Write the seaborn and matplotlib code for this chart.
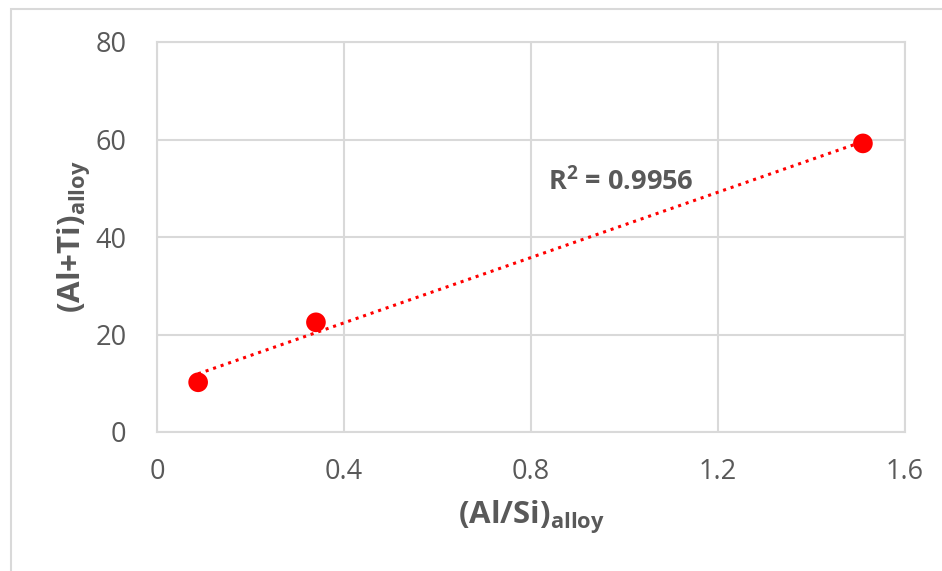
import matplotlib
matplotlib.use("Agg")
import matplotlib.pyplot as plt
import seaborn as sns
import pandas as pd
from matplotlib.patches import Rectangle

al_si = [0.088, 0.34, 1.51]
al_ti = [10.2, 22.5, 59.2]
x_ticks = [0, 0.4, 0.8, 1.2, 1.6]
x_tick_labels = ["0", "0.4", "0.8", "1.2", "1.6"]
y_ticks = [0, 20, 40, 60, 80]
r2_text = "R$^{\\mathbf{2}}$ = 0.9956"

sns.set_theme(style="white")
plt.rcParams['font.family'] = ['Open Sans', 'DejaVu Sans']
plt.rcParams['mathtext.fontset'] = 'custom'
plt.rcParams['mathtext.rm'] = 'Open Sans'
plt.rcParams['mathtext.bf'] = 'Open Sans:bold'

df = pd.DataFrame({"x": al_si, "y": al_ti})
gray = "#595959"
gridc = "#d9d9d9"

fig = plt.figure(figsize=(9.42, 5.71), dpi=100)
fig.patches.append(Rectangle((11/942, -0.1), 2.0, 1 - 9/571 + 0.1, transform=fig.transFigure,
                             fill=False, edgecolor="#d9d9d9", linewidth=1.5))
ax = fig.add_axes([157/942, 1 - 432/571, (905 - 157)/942, (432 - 42)/571])

sns.regplot(data=df, x="x", y="y", ax=ax, scatter=False, ci=None, truncate=True,
            line_kws=dict(color="#ff0000", linestyle=(0, (1, 1.6)), linewidth=2.2))
sns.scatterplot(data=df, x="x", y="y", ax=ax, color="#ff0000", s=200, edgecolor="none", zorder=5)

ax.set_xlim(0, 1.6)
ax.set_ylim(0, 80)
ax.set_xticks(x_ticks)
ax.set_xticklabels(x_tick_labels)
ax.set_yticks(y_ticks)
ax.grid(True, color=gridc, linewidth=1.5)
ax.set_axisbelow(True)
for s in ax.spines.values():
    s.set_color(gridc)
    s.set_linewidth(1.5)
ax.tick_params(axis='both', length=0, labelsize=19.5, colors=gray)
ax.tick_params(axis='x', pad=19)
ax.tick_params(axis='y', pad=22)

ax.set_xlabel("(Al/Si)$_{\\mathbf{alloy}}$", fontsize=22.5, fontweight="bold", color=gray, labelpad=9)
ax.set_ylabel("(Al+Ti)$_{\\mathbf{alloy}}$", fontsize=22.5, fontweight="bold", color=gray, labelpad=2)

ax.text(0.836, 51.3, r2_text, fontsize=19.5, fontweight="bold", color=gray, va="center", ha="left")

fig.savefig("out.png", dpi=100)
